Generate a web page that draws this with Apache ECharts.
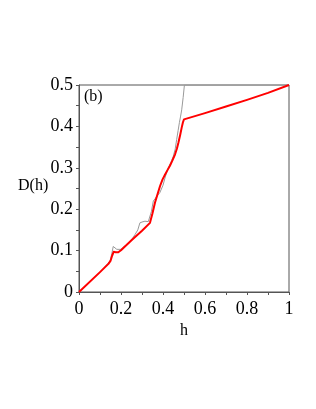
<!DOCTYPE html>
<html><head><meta charset="utf-8">
<script src="https://cdn.jsdelivr.net/npm/echarts@6/dist/echarts.min.js"></script>
<style>html,body{margin:0;padding:0;background:#fff}#c{width:316px;height:409px}</style>
</head><body><div id="c"></div>
<script>
const redH = [0, 0.10, 0.140, 0.150, 0.158, 0.165, 0.175, 0.187, 0.20, 0.25, 0.30, 0.338, 0.350, 0.362, 0.375, 0.386, 0.398, 0.41, 0.422, 0.433, 0.445, 0.457, 0.466, 0.473, 0.482, 0.489, 0.495, 0.50, 0.60, 0.70, 0.80, 0.90, 1.0];
const redD = [0, 0.048, 0.068, 0.075, 0.088, 0.097, 0.096, 0.096, 0.101, 0.125, 0.148, 0.167, 0.190, 0.216, 0.238, 0.256, 0.272, 0.284, 0.295, 0.305, 0.318, 0.332, 0.346, 0.360, 0.380, 0.397, 0.410, 0.417, 0.432, 0.448, 0.464, 0.481, 0.5];
const greyH = [0, 0.10, 0.148, 0.156, 0.163, 0.172, 0.18, 0.20, 0.215, 0.225, 0.24, 0.255, 0.267, 0.28, 0.29, 0.30, 0.314, 0.33, 0.338, 0.345, 0.354, 0.362, 0.37, 0.385, 0.40, 0.412, 0.425, 0.437, 0.449, 0.458, 0.465, 0.472, 0.478, 0.484, 0.489, 0.496, 0.502, 0.6, 0.8, 1.0];
const greyD = [0, 0.048, 0.075, 0.092, 0.110, 0.106, 0.103, 0.103, 0.110, 0.113, 0.121, 0.130, 0.139, 0.150, 0.167, 0.169, 0.171, 0.170, 0.170, 0.195, 0.220, 0.225, 0.231, 0.240, 0.258, 0.280, 0.300, 0.312, 0.328, 0.345, 0.368, 0.390, 0.409, 0.425, 0.440, 0.470, 0.5, 0.5, 0.5, 0.5];
const xTicks = [0, 0.2, 0.4, 0.6, 0.8, 1];
const yTicks = [0, 0.1, 0.2, 0.3, 0.4, 0.5];

const font = 'Liberation Serif';
const chart = echarts.init(document.getElementById('c'), null, {renderer: 'canvas'});
const axisCommon = {
  axisLine: {show: true, lineStyle: {color: '#555', width: 1}},
  axisTick: {show: true, length: 3, lineStyle: {color: '#555'}},
  minorTick: {show: true, splitNumber: 2, length: 3, lineStyle: {color: '#555'}},
  splitLine: {show: false},
  axisLabel: {fontFamily: font, fontSize: 18, color: '#000'}
};
chart.setOption({
  animation: false,
  grid: {left: 79, right: 27, top: 85, bottom: 117, show: true, borderColor: '#555', borderWidth: 1},
  xAxis: Object.assign({}, axisCommon, {
    type: 'value', min: 0, max: 1, interval: 0.2,
    name: 'h', nameLocation: 'middle', nameGap: 30,
    nameTextStyle: {fontFamily: font, fontSize: 16, color: '#000'},
    axisLabel: Object.assign({}, axisCommon.axisLabel, {margin: 8, formatter: v => xTicks.includes(+v.toFixed(2)) ? String(+v.toFixed(2)) : ''})
  }),
  yAxis: Object.assign({}, axisCommon, {
    type: 'value', min: 0, max: 0.5, interval: 0.1,
    axisLabel: Object.assign({}, axisCommon.axisLabel, {margin: 6, formatter: v => yTicks.includes(+v.toFixed(2)) ? String(+v.toFixed(2)) : ''})
  }),
  graphic: [
    {type: 'text', left: 18, top: 178, style: {text: 'D(h)', font: '16px "Liberation Serif"', fill: '#000'}},
    {type: 'text', left: 84, top: 89, style: {text: '(b)', font: '16px "Liberation Serif"', fill: '#000'}}
  ],
  series: [
    {type: 'line', data: greyH.map((h, i) => [h, greyD[i]]), showSymbol: false, lineStyle: {color: '#999', width: 1}, z: 2},
    {type: 'line', data: redH.map((h, i) => [h, redD[i]]), showSymbol: false, lineStyle: {color: '#ff0000', width: 2, join: 'round'}, z: 3}
  ]
});
</script></body></html>
